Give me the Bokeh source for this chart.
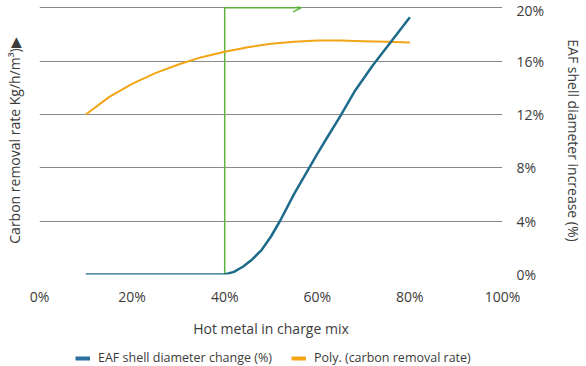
from bokeh.plotting import figure
from bokeh.layouts import column
from bokeh.models import (Range1d, LinearAxis, FixedTicker, Legend, LegendItem,
                          Arrow, OpenHead, CustomJSTickFormatter)
from bokeh.embed import file_html
from bokeh.resources import INLINE

# ---------------- data ----------------
eaf_x = [10, 20, 30, 40, 42, 44, 46, 48, 50, 52, 55, 58, 60, 62, 65, 68, 70, 72, 75, 78, 80]
eaf_y = [0, 0, 0, 0, 0.2, 0.6, 1.15, 1.85, 2.85, 4.05, 6.05, 7.85, 9.05, 10.2, 11.9, 13.7, 14.7, 15.7, 17.05, 18.4, 19.3]

poly_x = [10, 15, 20, 25, 30, 35, 40, 45, 50, 55, 60, 65, 70, 75, 80]
poly_y = [12.0, 13.3, 14.3, 15.1, 15.75, 16.3, 16.7, 17.05, 17.3, 17.45, 17.55, 17.55, 17.5, 17.45, 17.4]

marker_x = [40, 40]          # green threshold line
marker_y = [0, 20]
arrow_end_x = 56.5

x_ticks = [0, 20, 40, 60, 80, 100]
y_ticks = [0, 4, 8, 12, 16, 20]

x_title = "Hot metal in charge mix"
left_title = "Carbon removal rate Kg/h/m\u00b3)\u25b6"
right_title = "EAF shell diameter increase (%)"
series_names = ["EAF shell diameter change (%)", "Poly. (carbon removal rate)"]

# ---------------- styles ----------------
FONT = "Open Sans"
TXT = "#3c3c3c"
BLUE = "#1f6b8c"
BLUE_LEG = "#2a70a0"
ORANGE = "#f2a516"
GREEN = "#5db33c"
GRID = "#8a8a8a"


def style_axis(ax):
    ax.axis_line_color = None
    ax.major_tick_line_color = None
    ax.minor_tick_line_color = None
    ax.major_tick_out = 0
    ax.major_tick_in = 0
    ax.minor_tick_out = 0
    ax.minor_tick_in = 0
    ax.major_label_text_font = FONT
    ax.major_label_text_font_size = "14px"
    ax.major_label_text_color = TXT
    ax.axis_label_text_font = FONT
    ax.axis_label_text_font_size = "14px"
    ax.axis_label_text_font_style = "normal"
    ax.axis_label_text_color = TXT


p = figure(width=586, height=340, output_backend="svg", toolbar_location=None,
           x_range=Range1d(0, 100), y_range=Range1d(0, 20.1),
           min_border_top=6, min_border_left=39, min_border_right=83, min_border_bottom=65,
           y_axis_location=None)
p.outline_line_color = None
p.background_fill_color = "white"
p.border_fill_color = "white"

# grid
p.xgrid.visible = False
p.ygrid.ticker = FixedTicker(ticks=y_ticks)
p.ygrid.grid_line_color = GRID
p.ygrid.grid_line_width = 1

# x axis
xa = p.xaxis[0]
style_axis(xa)
xa.ticker = FixedTicker(ticks=x_ticks)
xa.formatter = CustomJSTickFormatter(code="return tick + '%';")
xa.major_label_standoff = 12
xa.axis_label = x_title
xa.axis_label_standoff = 10

# left axis (title only)
la = LinearAxis(ticker=FixedTicker(ticks=[]), axis_label=left_title)
style_axis(la)
la.axis_label_standoff = 16
p.add_layout(la, "left")

# right axis
ra = LinearAxis(ticker=FixedTicker(ticks=y_ticks), axis_label=right_title)
style_axis(ra)
ra.formatter = CustomJSTickFormatter(code="return tick + '%';")
ra.major_label_standoff = 14
ra.axis_label_standoff = 17
p.add_layout(ra, "right")

# green threshold line + arrow
p.line(marker_x, marker_y, line_color=GREEN, line_width=1.5)
p.add_layout(Arrow(end=OpenHead(size=8, line_color=GREEN, line_width=1.5),
                   x_start=marker_x[1], y_start=marker_y[1],
                   x_end=arrow_end_x, y_end=marker_y[1],
                   line_color=GREEN, line_width=1.5))

# series
p.line(poly_x, poly_y, line_color=ORANGE, line_width=2)
p.line(eaf_x, eaf_y, line_color=BLUE, line_width=2.5)

# ---------------- legend strip ----------------
q = figure(width=586, height=26, output_backend="svg", toolbar_location=None,
           x_range=Range1d(0, 1), y_range=Range1d(0, 1), min_border=0,
           x_axis_location=None, y_axis_location=None)
q.grid.visible = False
q.outline_line_color = None
q.border_fill_color = "white"
q.background_fill_color = "white"
# proxies: the series themselves, lying outside this strip's visible range
lb = q.line(eaf_x, eaf_y, line_color=BLUE_LEG, line_width=4)
lo = q.line(poly_x, poly_y, line_color=ORANGE, line_width=4)
legend = Legend(items=[LegendItem(label=series_names[0], renderers=[lb]),
                       LegendItem(label=series_names[1], renderers=[lo])],
                orientation="horizontal", location=(36, 0),
                label_text_font=FONT, label_text_font_size="12.5px",
                label_text_color=TXT, glyph_width=15, glyph_height=10,
                spacing=19, padding=0, margin=0, border_line_color=None,
                background_fill_alpha=0, label_standoff=8)
q.add_layout(legend, "center")

layout = column(p, q, spacing=0)
open("out.html", "w").write(file_html(layout, INLINE))
